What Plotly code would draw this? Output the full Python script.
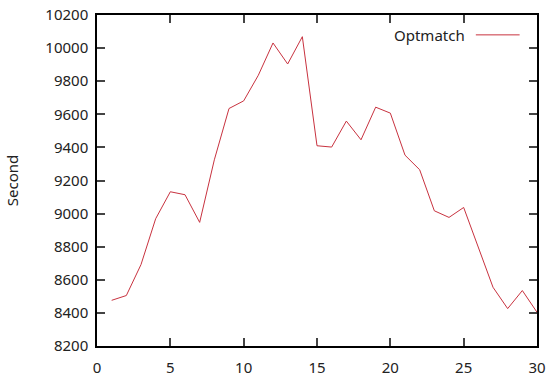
import plotly.graph_objects as go

x_vals = list(range(1, 31))
optmatch = [8476, 8505, 8692, 8969, 9132, 9114, 8947, 9325, 9635, 9681,
            9836, 10031, 9904, 10069, 9410, 9402, 9559, 9446, 9643, 9607,
            9353, 9265, 9017, 8977, 9037, 8795, 8555, 8426, 8535, 8404]
x_ticks = [0, 5, 10, 15, 20, 25, 30]
y_ticks = list(range(8200, 10201, 200))
series_name = "Optmatch"
line_color = "#c8323f"
font_family = "Noto Sans"

fig = go.Figure()
fig.add_trace(go.Scatter(x=x_vals, y=optmatch, mode="lines", name=series_name,
                         line=dict(color=line_color, width=1), showlegend=False))

axis_common = dict(showline=True, linecolor="black", linewidth=1.5, mirror="ticks",
                   ticks="inside", ticklen=8, tickcolor="#444", tickwidth=1.5,
                   showgrid=False, zeroline=False, automargin=False,
                   tickfont=dict(family=font_family, size=15, color="#222"))

fig.update_layout(
    width=548, height=381,
    margin=dict(l=97, r=11, t=15, b=35),
    plot_bgcolor="white", paper_bgcolor="white",
    xaxis=dict(range=[0, 30], tickvals=x_ticks, ticktext=[str(v) for v in x_ticks],
               ticklabelstandoff=7, **axis_common),
    yaxis=dict(range=[8200, 10200], tickvals=y_ticks, ticktext=[str(v) for v in y_ticks],
               ticklabelstandoff=4,
               title=dict(text="Second", font=dict(family=font_family, size=15, color="#222"),
                          standoff=23), **axis_common),
    annotations=[dict(text=series_name, xref="paper", yref="paper", x=0.84, y=0.94,
                      xanchor="right", yanchor="middle", showarrow=False,
                      font=dict(family=font_family, size=15, color="#222"))],
    shapes=[dict(type="line", xref="paper", yref="paper", x0=0.861, x1=0.9605,
                 y0=0.94, y1=0.94, line=dict(color=line_color, width=1))],
)

fig.write_html("out.html")
